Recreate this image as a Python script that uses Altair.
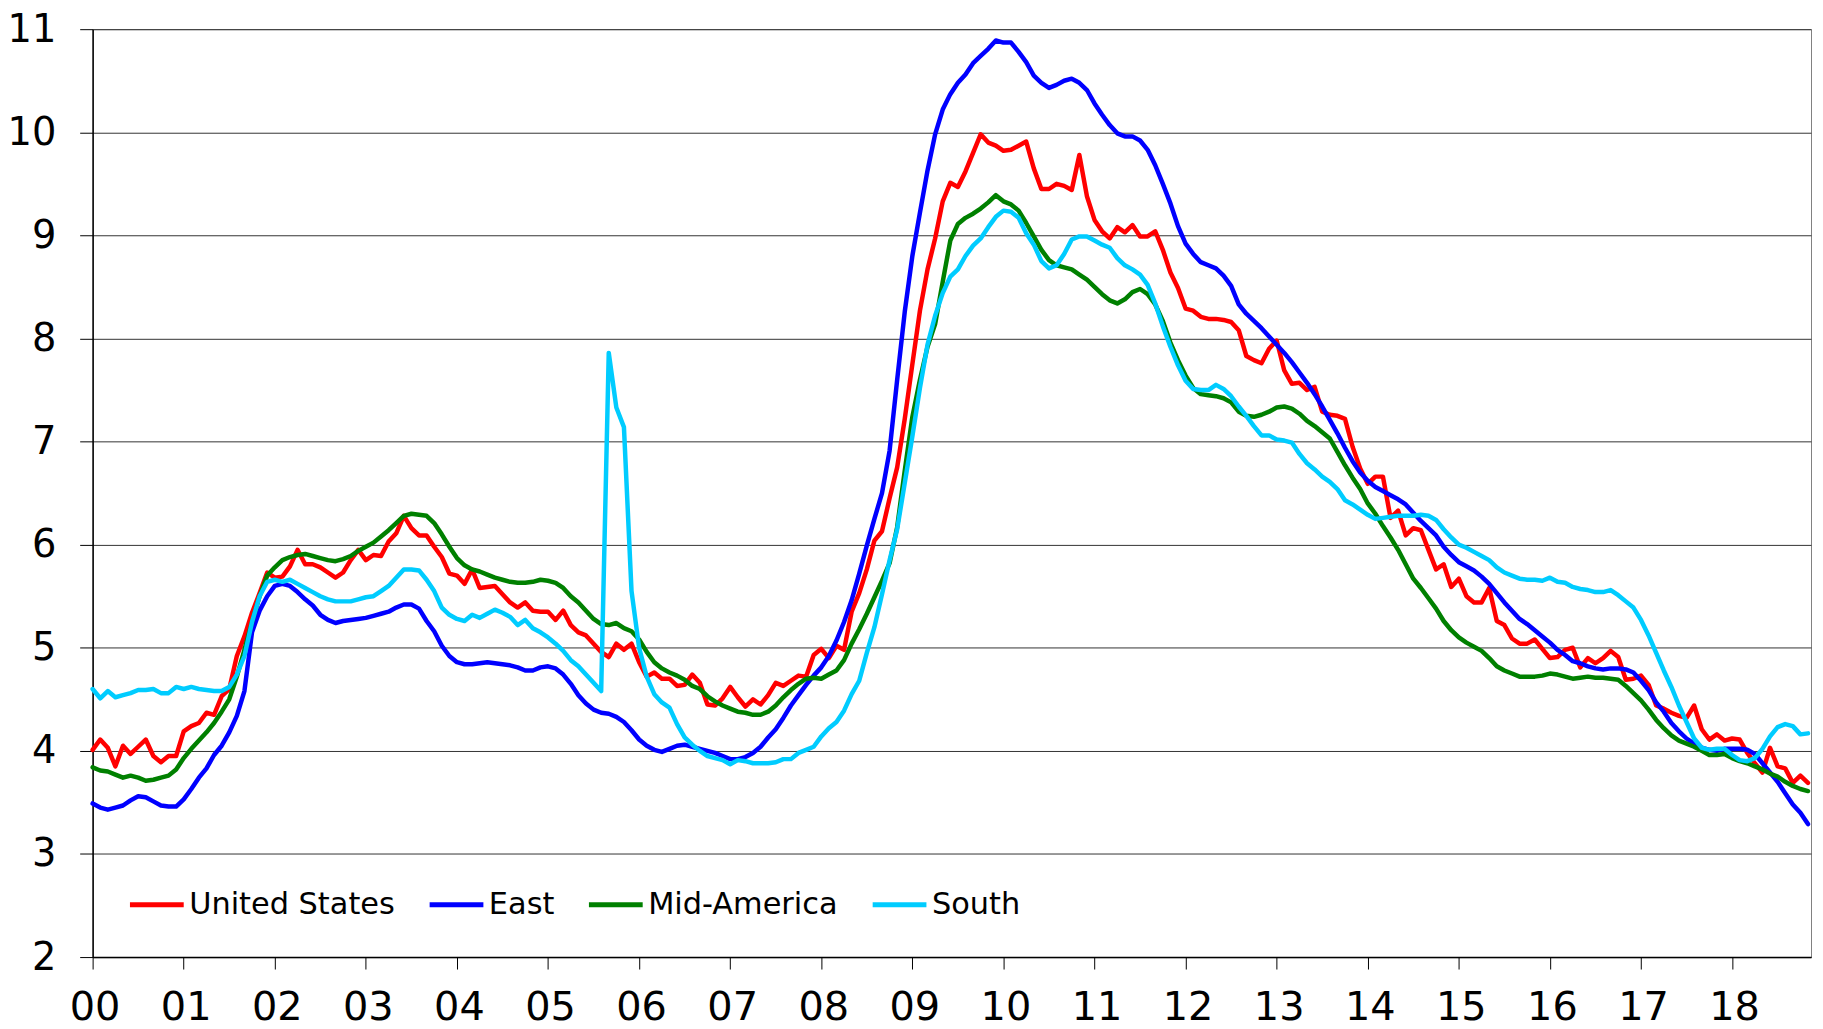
import altair as alt
import pandas as pd

SERIES = ["United States", "East", "Mid-America", "South"]
COLORS = ["#FF0000", "#0000FF", "#008000", "#00CCFF"]
YEAR_LABELS = ["00", "01", "02", "03", "04", "05", "06", "07", "08", "09",
               "10", "11", "12", "13", "14", "15", "16", "17", "18"]
Y_TICKS = [2, 3, 4, 5, 6, 7, 8, 9, 10, 11]

# monthly values, Jan 2000 .. Nov 2018
US = [
    4.01, 4.11, 4.03, 3.85, 4.05, 3.97, 4.04, 4.11, 3.95, 3.89, 3.95, 3.95,
    4.19, 4.24, 4.27, 4.37, 4.35, 4.53, 4.60, 4.92, 5.11, 5.34, 5.53, 5.73,
    5.68, 5.69, 5.79, 5.95, 5.81, 5.81, 5.78, 5.73, 5.68, 5.73, 5.85, 5.95,
    5.85, 5.90, 5.89, 6.03, 6.11, 6.28, 6.16, 6.09, 6.09, 5.98, 5.88, 5.72,
    5.70, 5.62, 5.76, 5.58, 5.59, 5.60, 5.52, 5.44, 5.39, 5.44, 5.36, 5.35,
    5.35, 5.27, 5.36, 5.22, 5.15, 5.12, 5.04, 4.96, 4.91, 5.04, 4.98, 5.04,
    4.86, 4.72, 4.76, 4.70, 4.70, 4.63, 4.64, 4.74, 4.66, 4.45, 4.44, 4.51,
    4.62, 4.52, 4.43, 4.50, 4.45, 4.54, 4.66, 4.63, 4.68, 4.73, 4.72, 4.93,
    4.99, 4.90, 5.02, 4.98, 5.35, 5.53, 5.76, 6.04, 6.13, 6.45, 6.75, 7.22,
    7.75, 8.27, 8.67, 8.97, 9.33, 9.51, 9.47, 9.62, 9.80, 9.98, 9.90, 9.87,
    9.82, 9.83, 9.87, 9.91, 9.65, 9.45, 9.45, 9.50, 9.48, 9.44, 9.78, 9.38,
    9.15, 9.04, 8.97, 9.08, 9.03, 9.10, 8.99, 8.99, 9.04, 8.86, 8.64, 8.49,
    8.29, 8.27, 8.21, 8.19, 8.19, 8.18, 8.16, 8.08, 7.83, 7.79, 7.76, 7.90,
    7.98, 7.69, 7.56, 7.57, 7.50, 7.53, 7.29, 7.26, 7.25, 7.22, 6.95, 6.74,
    6.59, 6.66, 6.66, 6.26, 6.33, 6.09, 6.16, 6.14, 5.95, 5.76, 5.81, 5.59,
    5.67, 5.50, 5.44, 5.44, 5.58, 5.26, 5.22, 5.09, 5.04, 5.04, 5.08, 4.99,
    4.90, 4.91, 4.98, 5.00, 4.81, 4.90, 4.85, 4.90, 4.97, 4.91, 4.69, 4.70,
    4.73, 4.64, 4.44, 4.41, 4.37, 4.34, 4.32, 4.44, 4.21, 4.11, 4.16, 4.10,
    4.12, 4.11, 3.98, 3.88, 3.79, 4.03, 3.85, 3.83, 3.69, 3.76, 3.69,
]

EAST = [
    3.49, 3.45, 3.43, 3.45, 3.47, 3.52, 3.56, 3.55, 3.51, 3.47, 3.46, 3.46,
    3.53, 3.63, 3.74, 3.83, 3.96, 4.05, 4.18, 4.34, 4.58, 5.15, 5.36, 5.50,
    5.60, 5.62, 5.60, 5.54, 5.47, 5.41, 5.32, 5.27, 5.24, 5.26, 5.27, 5.28,
    5.29, 5.31, 5.33, 5.35, 5.39, 5.42, 5.42, 5.38, 5.26, 5.16, 5.02, 4.92,
    4.86, 4.84, 4.84, 4.85, 4.86, 4.85, 4.84, 4.83, 4.81, 4.78, 4.78, 4.81,
    4.82, 4.80, 4.74, 4.65, 4.54, 4.46, 4.40, 4.37, 4.36, 4.33, 4.28, 4.20,
    4.11, 4.05, 4.01, 3.99, 4.02, 4.05, 4.06, 4.04, 4.02, 4.00, 3.98, 3.95,
    3.92, 3.92, 3.94, 3.98, 4.04, 4.13, 4.21, 4.32, 4.44, 4.54, 4.64, 4.73,
    4.81, 4.92, 5.07, 5.25, 5.46, 5.72, 5.99, 6.25, 6.50, 6.91, 7.60, 8.26,
    8.80, 9.22, 9.63, 9.98, 10.22, 10.37, 10.48, 10.56, 10.67, 10.74, 10.81, 10.89,
    10.87, 10.87, 10.78, 10.68, 10.55, 10.48, 10.43, 10.46, 10.50, 10.52, 10.48, 10.41,
    10.28, 10.17, 10.07, 9.99, 9.96, 9.96, 9.92, 9.83, 9.68, 9.50, 9.31, 9.09,
    8.92, 8.82, 8.74, 8.71, 8.68, 8.61, 8.51, 8.33, 8.24, 8.17, 8.10, 8.02,
    7.94, 7.86, 7.77, 7.67, 7.57, 7.46, 7.34, 7.21, 7.08, 6.94, 6.81, 6.70,
    6.62, 6.56, 6.52, 6.48, 6.44, 6.39, 6.31, 6.23, 6.16, 6.09, 5.98, 5.90,
    5.83, 5.79, 5.75, 5.69, 5.62, 5.53, 5.44, 5.36, 5.28, 5.23, 5.17, 5.11,
    5.05, 4.98, 4.93, 4.87, 4.85, 4.82, 4.80, 4.79, 4.80, 4.80, 4.79, 4.76,
    4.68, 4.59, 4.47, 4.38, 4.27, 4.19, 4.12, 4.07, 4.03, 4.01, 4.00, 4.02,
    4.02, 4.02, 4.01, 3.97, 3.88, 3.79, 3.70, 3.59, 3.48, 3.40, 3.29,
]

MID = [
    3.84, 3.81, 3.80, 3.77, 3.74, 3.76, 3.74, 3.71, 3.72, 3.74, 3.76, 3.82,
    3.93, 4.02, 4.10, 4.18, 4.27, 4.38, 4.50, 4.72, 4.98, 5.25, 5.50, 5.70,
    5.78, 5.85, 5.88, 5.90, 5.91, 5.89, 5.87, 5.85, 5.84, 5.86, 5.89, 5.94,
    5.98, 6.02, 6.08, 6.14, 6.21, 6.28, 6.30, 6.29, 6.28, 6.21, 6.10, 5.98,
    5.87, 5.80, 5.76, 5.74, 5.71, 5.68, 5.66, 5.64, 5.63, 5.63, 5.64, 5.66,
    5.65, 5.63, 5.58, 5.50, 5.44, 5.36, 5.28, 5.23, 5.22, 5.24, 5.19, 5.16,
    5.08, 4.96, 4.86, 4.80, 4.76, 4.73, 4.69, 4.63, 4.60, 4.53, 4.48, 4.44,
    4.41, 4.38, 4.37, 4.35, 4.35, 4.38, 4.44, 4.52, 4.59, 4.65, 4.70, 4.71,
    4.70, 4.74, 4.78, 4.88, 5.04, 5.18, 5.33, 5.49, 5.65, 5.82, 6.17, 6.72,
    7.24, 7.60, 7.92, 8.14, 8.55, 8.95, 9.11, 9.17, 9.21, 9.26, 9.32, 9.39,
    9.33, 9.30, 9.24, 9.12, 8.99, 8.86, 8.76, 8.71, 8.69, 8.67, 8.62, 8.57,
    8.50, 8.43, 8.37, 8.34, 8.38, 8.45, 8.48, 8.43, 8.33, 8.17, 7.96, 7.79,
    7.64, 7.52, 7.46, 7.45, 7.44, 7.42, 7.38, 7.29, 7.25, 7.24, 7.26, 7.29,
    7.33, 7.34, 7.32, 7.27, 7.20, 7.15, 7.09, 7.03, 6.90, 6.77, 6.65, 6.54,
    6.40, 6.30, 6.18, 6.07, 5.95, 5.81, 5.67, 5.58, 5.48, 5.38, 5.26, 5.17,
    5.10, 5.05, 5.01, 4.97, 4.90, 4.82, 4.78, 4.75, 4.72, 4.72, 4.72, 4.73,
    4.75, 4.74, 4.72, 4.70, 4.71, 4.72, 4.71, 4.71, 4.70, 4.69, 4.63, 4.56,
    4.49, 4.40, 4.30, 4.22, 4.15, 4.10, 4.07, 4.04, 4.00, 3.96, 3.96, 3.97,
    3.93, 3.90, 3.88, 3.85, 3.82, 3.78, 3.75, 3.70, 3.66, 3.63, 3.61,
]

SOUTH = [
    4.60, 4.51, 4.58, 4.52, 4.54, 4.56, 4.59, 4.59, 4.60, 4.56, 4.56, 4.62,
    4.60, 4.62, 4.60, 4.59, 4.58, 4.58, 4.62, 4.74, 4.92, 5.25, 5.50, 5.64,
    5.66, 5.64, 5.66, 5.62, 5.58, 5.54, 5.50, 5.47, 5.45, 5.45, 5.45, 5.47,
    5.49, 5.50, 5.55, 5.60, 5.68, 5.76, 5.76, 5.75, 5.66, 5.55, 5.39, 5.32,
    5.28, 5.26, 5.32, 5.29, 5.33, 5.37, 5.34, 5.30, 5.22, 5.27, 5.19, 5.15,
    5.10, 5.04, 4.97, 4.88, 4.82, 4.74, 4.66, 4.58, 7.86, 7.33, 7.14, 5.55,
    5.00, 4.72, 4.55, 4.47, 4.42, 4.26, 4.13, 4.06, 4.00, 3.95, 3.93, 3.91,
    3.87, 3.91, 3.90, 3.88, 3.88, 3.88, 3.89, 3.92, 3.92, 3.98, 4.01, 4.04,
    4.14, 4.22, 4.28, 4.39, 4.55, 4.68, 4.95, 5.20, 5.52, 5.85, 6.15, 6.60,
    7.05, 7.52, 7.94, 8.22, 8.44, 8.60, 8.67, 8.80, 8.90, 8.97, 9.08, 9.18,
    9.24, 9.23, 9.17, 9.02, 8.91, 8.75, 8.68, 8.71, 8.82, 8.96, 8.99, 8.99,
    8.95, 8.91, 8.88, 8.78, 8.71, 8.67, 8.62, 8.52, 8.34, 8.12, 7.92, 7.74,
    7.59, 7.51, 7.50, 7.50, 7.55, 7.51, 7.44, 7.34, 7.25, 7.15, 7.06, 7.06,
    7.02, 7.01, 6.99, 6.88, 6.79, 6.73, 6.66, 6.61, 6.54, 6.43, 6.39, 6.34,
    6.29, 6.25, 6.26, 6.27, 6.28, 6.28, 6.28, 6.29, 6.28, 6.24, 6.15, 6.07,
    6.00, 5.97, 5.93, 5.89, 5.85, 5.78, 5.73, 5.70, 5.67, 5.66, 5.66, 5.65,
    5.68, 5.64, 5.63, 5.59, 5.57, 5.56, 5.54, 5.54, 5.56, 5.51, 5.45, 5.39,
    5.27, 5.12, 4.95, 4.78, 4.62, 4.44, 4.28, 4.12, 4.03, 4.01, 4.02, 4.02,
    3.96, 3.91, 3.90, 3.93, 4.02, 4.14, 4.23, 4.26, 4.24, 4.16, 4.17,
]

rows = []
for name, vals in zip(SERIES, [US, EAST, MID, SOUTH]):
    for i, v in enumerate(vals):
        rows.append({"month": i, "value": v, "series": name})
df = pd.DataFrame(rows)

FONT = "DejaVu Sans"
label_expr = "[" + ",".join("'%s'" % s for s in YEAR_LABELS) + "][round(datum.value / 12)]"
x_ticks = [12 * i for i in range(len(YEAR_LABELS))]

color = alt.Color(
    "series:N",
    scale=alt.Scale(domain=SERIES, range=COLORS),
    legend=alt.Legend(
        orient="none", legendX=35, legendY=850, direction="horizontal", columns=4,
        title=None, symbolType="stroke", symbolSize=2916, symbolStrokeWidth=5,
        labelFont=FONT, labelFontSize=30.5, labelColor="black", labelOffset=3,
        columnPadding=24, padding=0, labelLimit=0,
    ),
)

base = alt.Chart(df).mark_line(strokeWidth=4.5, strokeJoin="round", strokeCap="round").encode(
    x=alt.X(
        "month:Q",
        scale=alt.Scale(domain=[0, 226.4], nice=False, zero=False),
        axis=alt.Axis(
            values=x_ticks, labelExpr=label_expr, title=None, grid=False,
            tickSize=12, tickColor="#000", domainColor="#000", domainWidth=1.5,
            labelFont=FONT, labelFontSize=40, labelColor="black",
            labelPadding=19, labelOffset=2, labelFlush=False, labelOverlap=False,
        ),
    ),
    y=alt.Y(
        "value:Q",
        scale=alt.Scale(domain=[2, 11], nice=False, zero=False),
        axis=alt.Axis(
            values=Y_TICKS, title=None, grid=True, gridColor="#333", gridWidth=1,
            tickSize=13, tickColor="#000", domainColor="#000", domainWidth=1.5,
            labelFont=FONT, labelFontSize=38.5, labelColor="black",
            labelPadding=24, labelFlush=False,
        ),
    ),
    color=color,
)

layers = [base.transform_filter(alt.datum.series == s) for s in SERIES]

chart = alt.layer(*layers).properties(
    width=1726,
    height=932,
    padding={"left": 85, "top": 19, "right": 4, "bottom": 76},
    autosize=alt.AutoSizeParams(type="none"),
).configure_view(stroke="#808080", strokeWidth=1)

chart.save("out.html", embed_options={"renderer": "svg", "actions": False})
